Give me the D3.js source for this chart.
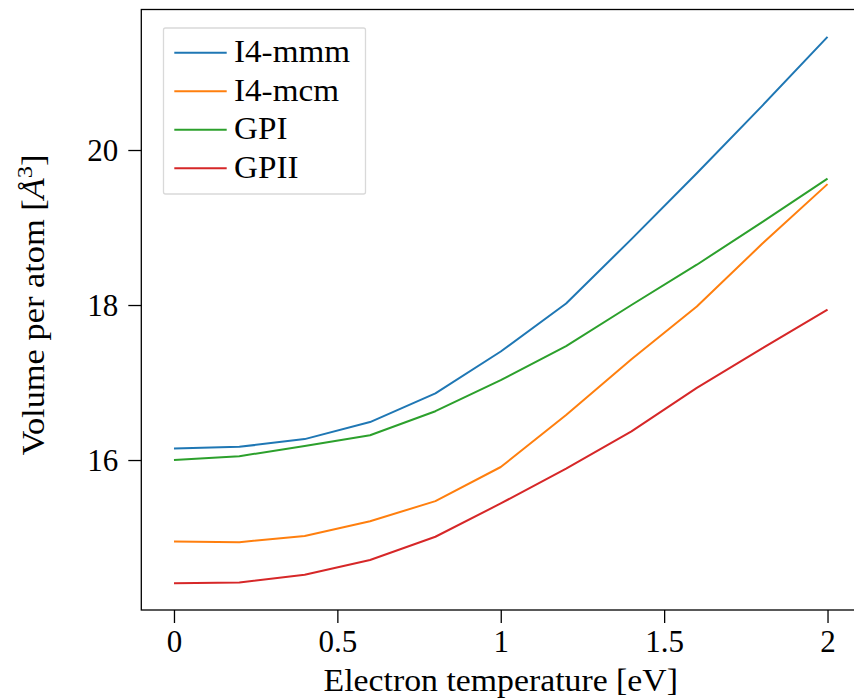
<!DOCTYPE html>
<html>
<head>
<meta charset="utf-8">
<script src="https://cdn.jsdelivr.net/npm/d3@7"></script>
<style>
  html, body { margin: 0; padding: 0; background: #fff; }
  svg { display: block; }
  text { font-family: "Liberation Serif", "DejaVu Serif", serif; fill: #000; }
</style>
</head>
<body>
<svg id="chart" width="854" height="700"></svg>
<script>
// Electron temperature (eV)
const temps = [0, 0.2, 0.4, 0.6, 0.8, 1.0, 1.2, 1.4, 1.6, 1.8, 2.0];
// Volume per atom (Å^3) for each phase
const i4mmm = [16.15, 16.17, 16.27, 16.49, 16.86, 17.40, 18.02, 18.85, 19.70, 20.57, 21.46];
const i4mcm = [14.95, 14.94, 15.02, 15.21, 15.47, 15.91, 16.58, 17.30, 17.98, 18.79, 19.56];
const gpi   = [16.00, 16.05, 16.18, 16.32, 16.63, 17.03, 17.47, 18.00, 18.52, 19.07, 19.63];
const gpii  = [14.41, 14.42, 14.52, 14.71, 15.01, 15.44, 15.89, 16.37, 16.93, 17.44, 17.94];

const seriesNames = ["I4-mmm", "I4-mcm", "GPI", "GPII"];
const seriesValues = [i4mmm, i4mcm, gpi, gpii];
const colors = ["#1f77b4", "#ff7f0e", "#2ca02c", "#d62728"];

const xTicks = [0, 0.5, 1, 1.5, 2];
const yTicks = [16, 18, 20];

const xLabel = "Electron temperature [eV]";

const svg = d3.select("#chart");
const plot = { left: 141.3, right: 860.2, top: 9.5, bottom: 610 };
// horizontal stretch so the serif face gets the wider set of the original typeface
const wide = 1.09;

const x = d3.scaleLinear().domain([-0.1, 2.1]).range([plot.left, plot.right]);
const y = d3.scaleLinear().domain([14.065, 21.813]).range([plot.bottom, plot.top]);

// data lines
const line = d3.line().x((d, i) => x(temps[i])).y(d => y(d));
seriesValues.forEach((vals, k) => {
  svg.append("path")
    .datum(vals)
    .attr("fill", "none")
    .attr("stroke", colors[k])
    .attr("stroke-width", 2)
    .attr("stroke-linejoin", "round")
    .attr("d", line);
});

// frame
svg.append("rect")
  .attr("x", plot.left).attr("y", plot.top)
  .attr("width", plot.right - plot.left).attr("height", plot.bottom - plot.top)
  .attr("fill", "none").attr("stroke", "#000").attr("stroke-width", 1.3);

// x axis
const xAxis = d3.axisBottom(x).tickValues(xTicks).tickSize(13).tickPadding(7)
  .tickFormat(d3.format("~g"));
const gx = svg.append("g").attr("transform", `translate(0,${plot.bottom})`).call(xAxis);
gx.select(".domain").remove();
gx.selectAll(".tick line").attr("stroke", "#000").attr("stroke-width", 1.3);
gx.selectAll(".tick text").attr("font-size", 31).attr("font-family", "Liberation Serif").attr("dy", "0.71em");

// y axis
const yAxis = d3.axisLeft(y).tickValues(yTicks).tickSize(13).tickPadding(10)
  .tickFormat(d3.format("~g"));
const gy = svg.append("g").attr("transform", `translate(${plot.left},0)`).call(yAxis);
gy.select(".domain").remove();
gy.selectAll(".tick line").attr("stroke", "#000").attr("stroke-width", 1.3);
gy.selectAll(".tick text").attr("font-size", 31).attr("font-family", "Liberation Serif").attr("dy", "0.34em");

// axis titles
svg.append("text")
  .attr("transform", `translate(${(x(0) + x(2)) / 2},691) scale(${wide},1)`)
  .attr("text-anchor", "middle").attr("font-size", 31)
  .text(xLabel);

const yt = svg.append("text")
  .attr("transform", `translate(44,305) rotate(-90) scale(1.11,1)`)
  .attr("text-anchor", "middle").attr("font-size", 31);
yt.append("tspan").text("Volume per atom [");
yt.append("tspan").attr("font-style", "italic").text("Å");
yt.append("tspan").attr("font-size", 22).attr("dy", -12).text("3");
yt.append("tspan").attr("dy", 12).text("]");

// legend
const leg = svg.append("g");
leg.append("rect")
  .attr("x", 163.5).attr("y", 28).attr("width", 202).attr("height", 166)
  .attr("rx", 2).attr("fill", "#fff").attr("fill-opacity", 0.8)
  .attr("stroke", "#d9d9d9").attr("stroke-width", 1.3);
seriesNames.forEach((name, k) => {
  const ly = 52.7 + k * 38.5;
  leg.append("line")
    .attr("x1", 174.3).attr("x2", 226.7).attr("y1", ly).attr("y2", ly)
    .attr("stroke", colors[k]).attr("stroke-width", 2);
  leg.append("text")
    .attr("transform", `translate(234,${ly + 9.6}) scale(${wide - 0.02},1)`)
    .attr("font-size", 31)
    .text(name);
});
</script>
</body>
</html>
